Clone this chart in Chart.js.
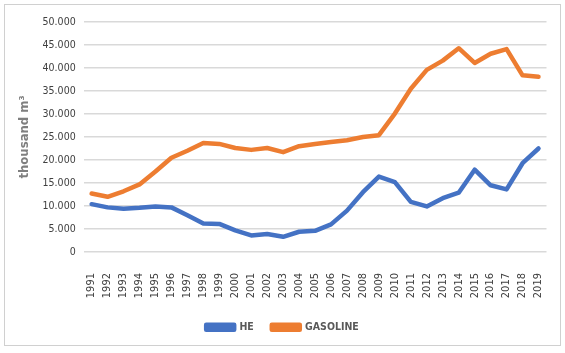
<!DOCTYPE html>
<html>
<head>
<meta charset="utf-8">
<script src="https://cdn.jsdelivr.net/npm/chart.js@4"></script>
<style>
  html, body { margin: 0; padding: 0; background: #fff; }
  #frame {
    position: absolute; left: 4px; top: 4px;
    width: 555px; height: 340px;
    border: 1px solid #d0d0d0;
  }
  #wrap { position: absolute; left: 0; top: 0; width: 565px; height: 353px; }
</style>
</head>
<body>
<div id="frame"></div>
<div id="wrap"><canvas id="fuelChart"></canvas></div>
<script>
  'use strict';

  var years = [
    '1991', '1992', '1993', '1994', '1995', '1996', '1997', '1998', '1999', '2000',
    '2001', '2002', '2003', '2004', '2005', '2006', '2007', '2008', '2009', '2010',
    '2011', '2012', '2013', '2014', '2015', '2016', '2017', '2018', '2019'
  ];

  var heValues = [
    10400, 9700, 9400, 9600, 9900, 9700, 8000, 6200, 6100, 4700,
    3600, 3900, 3300, 4400, 4600, 6000, 9000, 13000, 16400, 15200,
    10900, 9900, 11700, 12900, 17900, 14500, 13600, 19300, 22500
  ];

  var gasolineValues = [
    12700, 12000, 13200, 14700, 17500, 20500, 22000, 23700, 23500, 22600,
    22200, 22600, 21700, 23000, 23500, 23900, 24300, 25000, 25400, 30100,
    35500, 39600, 41600, 44300, 41100, 43100, 44100, 38400, 38100
  ];

  var yTicks = [0, 5000, 10000, 15000, 20000, 25000, 30000, 35000, 40000, 45000, 50000];

  function fmt(v) {
    return v === 0 ? '0' : String(v).replace(/\B(?=(\d{3})+(?!\d))/g, '.');
  }

  var condensed = '"DejaVu Sans Condensed", "DejaVu Sans", sans-serif';
  var ctx = document.getElementById('fuelChart');

  // keep the legend box a fixed height so the plot area lines up
  var legendHeight = {
    id: 'legendHeight',
    beforeInit: function (chart) {
      var fit = chart.legend.fit;
      chart.legend.fit = function () {
        fit.call(this);
        this.height = 39;
      };
    }
  };

  new Chart(ctx, {
    type: 'line',
    data: {
      labels: years,
      datasets: [
        {
          label: 'HE',
          data: heValues,
          borderColor: '#4472c4',
          backgroundColor: '#4472c4',
          borderWidth: 4.5,
          pointRadius: 0,
          tension: 0,
          borderCapStyle: 'round',
          borderJoinStyle: 'round'
        },
        {
          label: 'GASOLINE',
          data: gasolineValues,
          borderColor: '#ed7d31',
          backgroundColor: '#ed7d31',
          borderWidth: 4.5,
          pointRadius: 0,
          tension: 0,
          borderCapStyle: 'round',
          borderJoinStyle: 'round'
        }
      ]
    },
    plugins: [legendHeight],
    options: {
      responsive: true,
      maintainAspectRatio: false,
      animation: false,
      layout: { padding: { left: 17, right: 17, top: 22, bottom: 10 } },
      plugins: {
        tooltip: { enabled: false },
        legend: {
          position: 'bottom',
          labels: {
            boxWidth: 28,
            boxHeight: 5,
            padding: 18,
            color: '#595959',
            font: { family: condensed, size: 10.5, weight: 'bold' }
          }
        }
      },
      scales: {
        x: {
          offset: true,
          grid: { display: false },
          border: { display: false },
          afterFit: function (axis) { axis.height = 52; },
          ticks: {
            color: '#404040',
            minRotation: 90,
            maxRotation: 90,
            autoSkip: false,
            padding: 13,
            font: { family: condensed, size: 11 }
          }
        },
        y: {
          min: 0,
          max: 50000,
          afterBuildTicks: function (axis) {
            axis.ticks = yTicks.map(function (v) { return { value: v }; });
          },
          grid: { color: '#d9d9d9', lineWidth: 1.5, drawTicks: false },
          border: { display: false },
          title: {
            display: true,
            text: 'thousand m³',
            color: '#7f7f7f',
            font: { family: condensed, size: 13, weight: 'bold' },
            padding: { top: 0, bottom: 2 }
          },
          ticks: {
            color: '#404040',
            padding: 8,
            callback: function (v) { return fmt(v); },
            font: { family: condensed, size: 10.5 }
          }
        }
      }
    }
  });
</script>
</body>
</html>
